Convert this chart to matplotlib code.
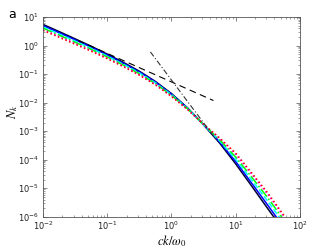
import matplotlib
matplotlib.use("Agg")
import matplotlib.pyplot as plt
import numpy as np

# log10 of ck/w0 sample points
log_k = [-2.0, -1.75, -1.5, -1.25, -1.0, -0.75, -0.5, -0.25, 0.0,
         0.25, 0.5, 0.75, 1.0, 1.25, 1.5, 1.75, 2.0]

# log10 of N_k, one list per run
n_black = [0.74, 0.49, 0.235, -0.025, -0.30, -0.59, -0.90, -1.26, -1.685,
           -2.185, -2.78, -3.42, -4.15, -4.93, -5.72, -6.50, -7.30]
n_blue = [0.70, 0.45, 0.20, -0.055, -0.33, -0.62, -0.925, -1.28, -1.705,
          -2.195, -2.78, -3.38, -4.07, -4.83, -5.60, -6.38, -7.18]
n_cyan = [0.65, 0.405, 0.155, -0.10, -0.37, -0.655, -0.96, -1.31, -1.725,
          -2.205, -2.78, -3.34, -3.99, -4.72, -5.46, -6.24, -7.04]
n_green = [0.61, 0.365, 0.115, -0.135, -0.40, -0.685, -0.99, -1.335, -1.745,
           -2.215, -2.77, -3.30, -3.91, -4.62, -5.34, -6.12, -6.92]
n_magenta = [0.56, 0.32, 0.075, -0.175, -0.44, -0.72, -1.02, -1.36, -1.775,
             -2.235, -2.76, -3.26, -3.82, -4.52, -5.22, -6.00, -6.80]
n_red = [0.53, 0.29, 0.045, -0.20, -0.46, -0.74, -1.04, -1.38, -1.785,
         -2.245, -2.76, -3.24, -3.77, -4.47, -5.17, -5.95, -6.74]

# guide lines: N ~ k^-1 and N ~ k^-3
guide1_k = [0.035, 4.5]
guide1_n = [1.51, 0.0118]
guide3_k = [0.47, 5.0]
guide3_n = [0.596, 4.9e-4]

k = 10.0 ** np.array(log_k)
series = [
    (n_black, "#000033", "-"),
    (n_blue, "#0000ff", "-"),
    (n_cyan, "#00ffff", "--"),
    (n_green, "#00ff00", "-."),
    (n_magenta, "#ff00ff", ":"),
    (n_red, "#ff0000", ":"),
]

plt.rcParams["mathtext.fontset"] = "stix"
fig = plt.figure(figsize=(3.32, 2.49), dpi=100)
ax = fig.add_axes([0.1295, 0.1297, 0.774, 0.802])

for vals, color, ls in series:
    ax.plot(k, 10.0 ** np.array(vals), color=color, ls=ls, lw=1.1)

ax.plot(guide1_k, guide1_n, color="black", ls=(0, (6, 4)), lw=0.8)
ax.plot(guide3_k, guide3_n, color="#333333", ls=(0, (5, 2, 1, 2)), lw=0.8)

ax.set_xscale("log")
ax.set_yscale("log")
ax.set_xlim(1e-2, 1e2)
ax.set_ylim(1e-6, 1e1)
ax.set_xticks([1e-2, 1e-1, 1e0, 1e1, 1e2])
ax.set_yticks([1e-6, 1e-5, 1e-4, 1e-3, 1e-2, 1e-1, 1e0, 1e1])

for side in ax.spines.values():
    side.set_color("#555555")
    side.set_linewidth(0.6)
ax.tick_params(which="both", direction="in", top=True, right=True,
               colors="#555555", labelcolor="#222222", labelsize=6)
ax.tick_params(which="major", length=3, width=0.5, pad=3)
ax.tick_params(which="minor", length=1.6, width=0.4)
ax.tick_params(axis="x", which="major", pad=2)

ax.set_xlabel(r"$ck/\omega_0$", fontsize=9)
ax.xaxis.set_label_coords(0.5, -0.122)
ax.xaxis.label.set_va("center")
ax.set_ylabel(r"$N_k$", fontsize=9)
ax.yaxis.set_label_coords(-0.12, 0.524)
ax.yaxis.label.set_va("center")
fig.text(0.025, 0.915, "a", fontsize=9, ha="left", va="bottom")

fig.savefig("out.png", dpi=100)
